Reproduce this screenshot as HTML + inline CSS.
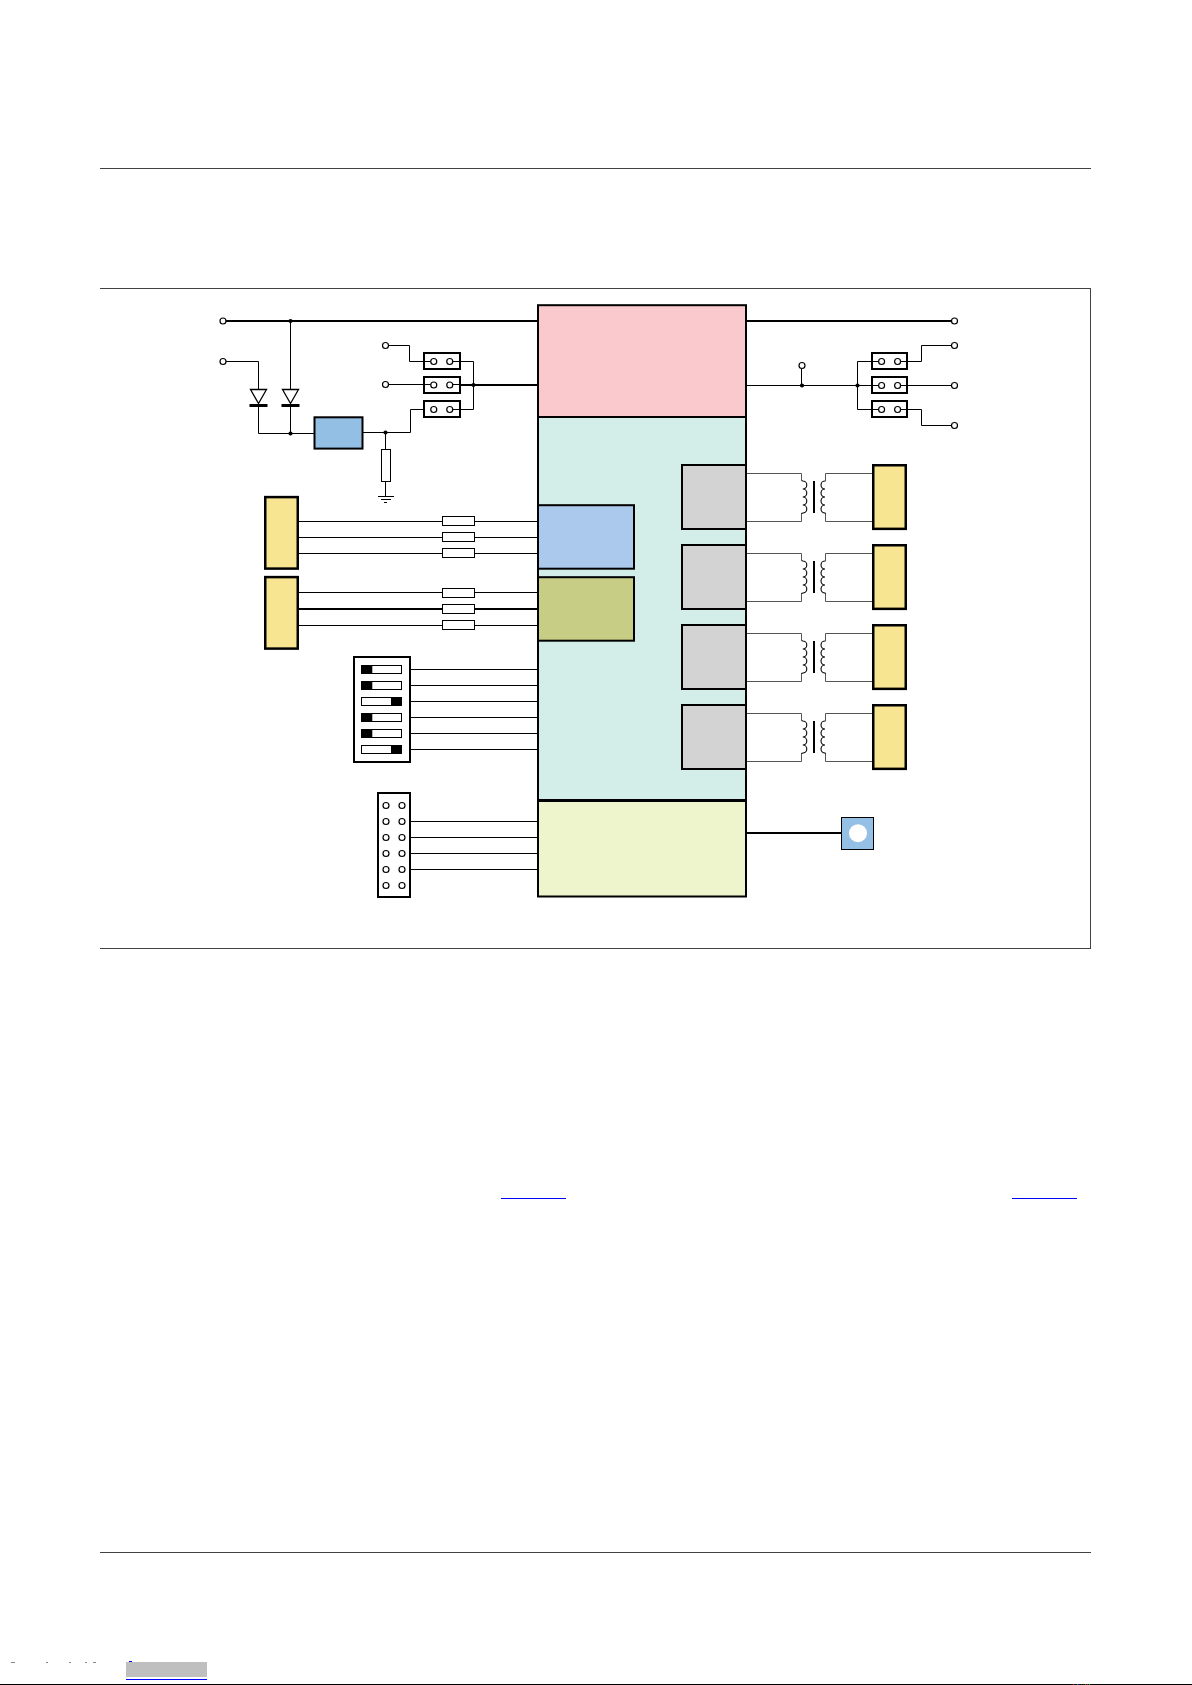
<!DOCTYPE html>
<html><head><meta charset="utf-8"><title>page</title>
<style>
html,body{margin:0;padding:0;background:#fff;}
body{width:1192px;height:1685px;position:relative;overflow:hidden;font-family:"Liberation Sans",sans-serif;}
svg{position:absolute;left:0;top:0;}
</style></head>
<body>
<svg width="1192" height="1685" viewBox="0 0 1192 1685">
<rect x="100" y="168" width="991" height="1" fill="#424242"/>
<rect x="100" y="288" width="991" height="1" fill="#424242"/>
<rect x="100" y="948" width="991" height="1" fill="#424242"/>
<rect x="1090" y="288" width="1" height="661" fill="#424242"/>
<rect x="100" y="1552" width="991" height="1" fill="#424242"/>
<rect x="501" y="1198" width="65" height="1" fill="#0000ff"/>
<rect x="1012" y="1198" width="65" height="1" fill="#0000ff"/>
<rect x="126" y="1662" width="81" height="15" fill="#bfbfbf"/>
<rect x="126" y="1679" width="81" height="1" fill="#0000ff"/>
<rect x="129" y="1661" width="3" height="1" fill="#0000ff"/>
<rect x="11" y="1662" width="4" height="1" fill="#888"/>
<rect x="46" y="1662" width="2" height="1" fill="#888"/>
<rect x="69" y="1662" width="2" height="1" fill="#888"/>
<rect x="85" y="1662" width="2" height="1" fill="#888"/>
<rect x="93" y="1662" width="3" height="1" fill="#888"/>
<rect x="0" y="1684" width="1192" height="1" fill="#000"/>
<rect x="1073" y="1684" width="1" height="1" fill="#e00000"/>
<rect x="1074" y="1684" width="1" height="1" fill="#000070"/>
<rect x="1077" y="1684" width="1" height="1" fill="#00a000"/>
<rect x="1078" y="1684" width="1" height="1" fill="#0000e0"/>
<rect x="1079" y="1684" width="1" height="1" fill="#400000"/>
<rect x="1081" y="1684" width="1" height="1" fill="#004000"/>
<rect x="1083" y="1684" width="1" height="1" fill="#500000"/>
<rect x="1085" y="1684" width="1" height="1" fill="#00b000"/>
<rect x="1086" y="1684" width="1" height="1" fill="#000060"/>
<rect x="1087" y="1684" width="1" height="1" fill="#f00000"/>
<rect x="1089" y="1684" width="1" height="1" fill="#00d000"/>
<rect x="538" y="305.2" width="208" height="111.8" fill="#f9c9cd" stroke="#000" stroke-width="2"/>
<rect x="538" y="417" width="208" height="383.5" fill="#d3ede8" stroke="#000" stroke-width="2"/>
<rect x="538" y="800.5" width="208" height="96" fill="#eef5cc" stroke="#000" stroke-width="2"/>
<path d="M538 800.5 H746" fill="none" stroke="#000" stroke-width="3" stroke-linejoin="miter"/>
<rect x="538" y="505.2" width="96" height="63.5" fill="#aac9ec" stroke="#000" stroke-width="2"/>
<rect x="538" y="577.2" width="96" height="63.5" fill="#c7cd84" stroke="#000" stroke-width="2"/>
<rect x="682" y="465" width="64" height="64" fill="#d3d3d3" stroke="#000" stroke-width="2"/>
<rect x="682" y="545" width="64" height="64" fill="#d3d3d3" stroke="#000" stroke-width="2"/>
<rect x="682" y="625" width="64" height="64" fill="#d3d3d3" stroke="#000" stroke-width="2"/>
<rect x="682" y="705" width="64" height="64" fill="#d3d3d3" stroke="#000" stroke-width="2"/>
<path d="M226 321 H538" fill="none" stroke="#000" stroke-width="2" stroke-linejoin="miter"/>
<circle cx="223" cy="321" r="3" fill="#fff" stroke="#000" stroke-width="1.2"/>
<circle cx="290.5" cy="321" r="2.1" fill="#000"/>
<path d="M226 361.5 H258.5 V433.5 H314" fill="none" stroke="#000" stroke-width="1" stroke-linejoin="miter"/>
<circle cx="223" cy="361.5" r="3" fill="#fff" stroke="#000" stroke-width="1.2"/>
<path d="M290.5 321 V433.5" fill="none" stroke="#000" stroke-width="1" stroke-linejoin="miter"/>
<circle cx="290.5" cy="433.5" r="2.1" fill="#000"/>
<path d="M250.5 389.5 H266.5 L258.5 403.5 Z" fill="#fff" stroke="#000" stroke-width="1.3" stroke-linejoin="miter"/>
<rect x="249.5" y="404" width="18" height="3" fill="#000"/>
<path d="M282.5 389.5 H298.5 L290.5 403.5 Z" fill="#fff" stroke="#000" stroke-width="1.3" stroke-linejoin="miter"/>
<rect x="281.5" y="404" width="18" height="3" fill="#000"/>
<rect x="314.5" y="417.3" width="48" height="31.3" fill="#93bfe5" stroke="#000" stroke-width="2"/>
<path d="M362.5 432.5 H410.5 V409.5 H430.75" fill="none" stroke="#000" stroke-width="1" stroke-linejoin="miter"/>
<circle cx="385.5" cy="432.5" r="2.1" fill="#000"/>
<path d="M385.5 432.5 V449" fill="none" stroke="#000" stroke-width="1" stroke-linejoin="miter"/>
<rect x="381.5" y="449.5" width="9" height="32" fill="#fff" stroke="#000" stroke-width="1"/>
<path d="M385.5 482 V496.5" fill="none" stroke="#000" stroke-width="1" stroke-linejoin="miter"/>
<path d="M378 496.5 H394 M381 499.5 H391 M384 502.5 H387" fill="none" stroke="#000" stroke-width="1" stroke-linejoin="miter"/>
<rect x="424" y="353" width="36" height="16" fill="#fff" stroke="#000" stroke-width="2"/>
<rect x="424" y="377" width="36" height="16" fill="#fff" stroke="#000" stroke-width="2"/>
<rect x="424" y="401" width="36" height="16" fill="#fff" stroke="#000" stroke-width="2"/>
<path d="M388.5 345.5 H409.5 V361.5 H430.75" fill="none" stroke="#000" stroke-width="1" stroke-linejoin="miter"/>
<circle cx="385.5" cy="345.5" r="3" fill="#fff" stroke="#000" stroke-width="1.2"/>
<path d="M388.5 384.5 H430.75" fill="none" stroke="#000" stroke-width="1" stroke-linejoin="miter"/>
<circle cx="385.5" cy="384.5" r="3" fill="#fff" stroke="#000" stroke-width="1.2"/>
<path d="M452.75 361.5 H473.5 V409.5 H452.75" fill="none" stroke="#000" stroke-width="1" stroke-linejoin="miter"/>
<path d="M461 385 H538" fill="none" stroke="#000" stroke-width="2" stroke-linejoin="miter"/>
<path d="M452.75 384.5 H461" fill="none" stroke="#000" stroke-width="1" stroke-linejoin="miter"/>
<circle cx="473.5" cy="385" r="2.1" fill="#000"/>
<circle cx="433.75" cy="361.5" r="3" fill="#fff" stroke="#000" stroke-width="1.2"/>
<circle cx="449.75" cy="361.5" r="3" fill="#fff" stroke="#000" stroke-width="1.2"/>
<circle cx="433.75" cy="385" r="3" fill="#fff" stroke="#000" stroke-width="1.2"/>
<circle cx="449.75" cy="385" r="3" fill="#fff" stroke="#000" stroke-width="1.2"/>
<circle cx="433.75" cy="409.5" r="3" fill="#fff" stroke="#000" stroke-width="1.2"/>
<circle cx="449.75" cy="409.5" r="3" fill="#fff" stroke="#000" stroke-width="1.2"/>
<path d="M746 321 H951.5" fill="none" stroke="#000" stroke-width="2" stroke-linejoin="miter"/>
<circle cx="954.5" cy="321" r="3" fill="#fff" stroke="#000" stroke-width="1.2"/>
<rect x="872" y="353" width="35" height="16" fill="#fff" stroke="#000" stroke-width="2"/>
<rect x="872" y="377" width="35" height="16" fill="#fff" stroke="#000" stroke-width="2"/>
<rect x="872" y="401" width="35" height="16" fill="#fff" stroke="#000" stroke-width="2"/>
<path d="M746 385.5 H878.6" fill="none" stroke="#000" stroke-width="1" stroke-linejoin="miter"/>
<circle cx="802" cy="385.5" r="2.1" fill="#000"/>
<path d="M801.5 368.5 V385.5" fill="none" stroke="#000" stroke-width="1" stroke-linejoin="miter"/>
<circle cx="802" cy="365.5" r="3" fill="#fff" stroke="#000" stroke-width="1.2"/>
<circle cx="857.5" cy="385.5" r="2.1" fill="#000"/>
<path d="M878.6 361.5 H857.5 V409.5 H878.6" fill="none" stroke="#000" stroke-width="1" stroke-linejoin="miter"/>
<path d="M900.6 361.5 H921.5 V345.5 H951.5" fill="none" stroke="#000" stroke-width="1" stroke-linejoin="miter"/>
<path d="M900.6 385.5 H951.5" fill="none" stroke="#000" stroke-width="1" stroke-linejoin="miter"/>
<path d="M900.6 409.5 H921.5 V425.5 H951.5" fill="none" stroke="#000" stroke-width="1" stroke-linejoin="miter"/>
<circle cx="881.6" cy="361.5" r="3" fill="#fff" stroke="#000" stroke-width="1.2"/>
<circle cx="897.6" cy="361.5" r="3" fill="#fff" stroke="#000" stroke-width="1.2"/>
<circle cx="881.6" cy="385.5" r="3" fill="#fff" stroke="#000" stroke-width="1.2"/>
<circle cx="897.6" cy="385.5" r="3" fill="#fff" stroke="#000" stroke-width="1.2"/>
<circle cx="881.6" cy="409.5" r="3" fill="#fff" stroke="#000" stroke-width="1.2"/>
<circle cx="897.6" cy="409.5" r="3" fill="#fff" stroke="#000" stroke-width="1.2"/>
<circle cx="954.5" cy="345.5" r="3" fill="#fff" stroke="#000" stroke-width="1.2"/>
<circle cx="954.5" cy="385.5" r="3" fill="#fff" stroke="#000" stroke-width="1.2"/>
<circle cx="954.5" cy="425.5" r="3" fill="#fff" stroke="#000" stroke-width="1.2"/>
<rect x="265.25" y="497.1" width="32.5" height="71.5" fill="#f8e592" stroke="#000" stroke-width="2.5"/>
<rect x="265.25" y="577.1" width="32.5" height="71.5" fill="#f8e592" stroke="#000" stroke-width="2.5"/>
<path d="M299 521.5 H538" fill="none" stroke="#000" stroke-width="1" stroke-linejoin="miter"/>
<rect x="442.5" y="516.5" width="32" height="9" fill="#fff" stroke="#000" stroke-width="1"/>
<path d="M299 537.5 H538" fill="none" stroke="#000" stroke-width="1" stroke-linejoin="miter"/>
<rect x="442.5" y="532.5" width="32" height="9" fill="#fff" stroke="#000" stroke-width="1"/>
<path d="M299 553.5 H538" fill="none" stroke="#000" stroke-width="1" stroke-linejoin="miter"/>
<rect x="442.5" y="548.5" width="32" height="9" fill="#fff" stroke="#000" stroke-width="1"/>
<path d="M299 592.5 H538" fill="none" stroke="#000" stroke-width="1" stroke-linejoin="miter"/>
<rect x="442.5" y="588.5" width="32" height="9" fill="#fff" stroke="#000" stroke-width="1"/>
<path d="M299 609 H538" fill="none" stroke="#000" stroke-width="2" stroke-linejoin="miter"/>
<rect x="442.5" y="604.5" width="32" height="9" fill="#fff" stroke="#000" stroke-width="1"/>
<path d="M299 625.5 H538" fill="none" stroke="#000" stroke-width="1" stroke-linejoin="miter"/>
<rect x="442.5" y="620.5" width="32" height="9" fill="#fff" stroke="#000" stroke-width="1"/>
<path d="M747 473.5 H801.5 V480.5 M801.5 513 V521.5 H747" fill="none" stroke="#555" stroke-width="1" stroke-linejoin="miter"/>
<path d="M801.5 480.5 L802.8 481 A4 4 0 0 1 802.8 489 A4 4 0 0 1 802.8 497 A4 4 0 0 1 802.8 505 A4 4 0 0 1 802.8 513 L801.5 513.5" fill="none" stroke="#000" stroke-width="1.1" stroke-linejoin="miter"/>
<rect x="813" y="481" width="2" height="32" fill="#000"/>
<path d="M872 473.5 H825.5 V480.5 M825.5 513 V521.5 H872" fill="none" stroke="#555" stroke-width="1" stroke-linejoin="miter"/>
<path d="M825.5 480.5 L825 481 A4 4 0 0 0 825 489 A4 4 0 0 0 825 497 A4 4 0 0 0 825 505 A4 4 0 0 0 825 513 L825.5 513.5" fill="none" stroke="#000" stroke-width="1.1" stroke-linejoin="miter"/>
<rect x="873.25" y="465.25" width="32.5" height="63.6" fill="#f8e592" stroke="#000" stroke-width="2.5"/>
<path d="M747 553.5 H801.5 V560.5 M801.5 593 V601.5 H747" fill="none" stroke="#555" stroke-width="1" stroke-linejoin="miter"/>
<path d="M801.5 560.5 L802.8 561 A4 4 0 0 1 802.8 569 A4 4 0 0 1 802.8 577 A4 4 0 0 1 802.8 585 A4 4 0 0 1 802.8 593 L801.5 593.5" fill="none" stroke="#000" stroke-width="1.1" stroke-linejoin="miter"/>
<rect x="813" y="561" width="2" height="32" fill="#000"/>
<path d="M872 553.5 H825.5 V560.5 M825.5 593 V601.5 H872" fill="none" stroke="#555" stroke-width="1" stroke-linejoin="miter"/>
<path d="M825.5 560.5 L825 561 A4 4 0 0 0 825 569 A4 4 0 0 0 825 577 A4 4 0 0 0 825 585 A4 4 0 0 0 825 593 L825.5 593.5" fill="none" stroke="#000" stroke-width="1.1" stroke-linejoin="miter"/>
<rect x="873.25" y="545.25" width="32.5" height="63.6" fill="#f8e592" stroke="#000" stroke-width="2.5"/>
<path d="M747 633.5 H801.5 V640.5 M801.5 673 V681.5 H747" fill="none" stroke="#555" stroke-width="1" stroke-linejoin="miter"/>
<path d="M801.5 640.5 L802.8 641 A4 4 0 0 1 802.8 649 A4 4 0 0 1 802.8 657 A4 4 0 0 1 802.8 665 A4 4 0 0 1 802.8 673 L801.5 673.5" fill="none" stroke="#000" stroke-width="1.1" stroke-linejoin="miter"/>
<rect x="813" y="641" width="2" height="32" fill="#000"/>
<path d="M872 633.5 H825.5 V640.5 M825.5 673 V681.5 H872" fill="none" stroke="#555" stroke-width="1" stroke-linejoin="miter"/>
<path d="M825.5 640.5 L825 641 A4 4 0 0 0 825 649 A4 4 0 0 0 825 657 A4 4 0 0 0 825 665 A4 4 0 0 0 825 673 L825.5 673.5" fill="none" stroke="#000" stroke-width="1.1" stroke-linejoin="miter"/>
<rect x="873.25" y="625.25" width="32.5" height="63.6" fill="#f8e592" stroke="#000" stroke-width="2.5"/>
<path d="M747 713.5 H801.5 V720.5 M801.5 753 V761.5 H747" fill="none" stroke="#555" stroke-width="1" stroke-linejoin="miter"/>
<path d="M801.5 720.5 L802.8 721 A4 4 0 0 1 802.8 729 A4 4 0 0 1 802.8 737 A4 4 0 0 1 802.8 745 A4 4 0 0 1 802.8 753 L801.5 753.5" fill="none" stroke="#000" stroke-width="1.1" stroke-linejoin="miter"/>
<rect x="813" y="721" width="2" height="32" fill="#000"/>
<path d="M872 713.5 H825.5 V720.5 M825.5 753 V761.5 H872" fill="none" stroke="#555" stroke-width="1" stroke-linejoin="miter"/>
<path d="M825.5 720.5 L825 721 A4 4 0 0 0 825 729 A4 4 0 0 0 825 737 A4 4 0 0 0 825 745 A4 4 0 0 0 825 753 L825.5 753.5" fill="none" stroke="#000" stroke-width="1.1" stroke-linejoin="miter"/>
<rect x="873.25" y="705.25" width="32.5" height="63.6" fill="#f8e592" stroke="#000" stroke-width="2.5"/>
<rect x="354" y="657" width="56" height="105" fill="#fff" stroke="#000" stroke-width="2"/>
<rect x="361.5" y="665.5" width="40" height="8" fill="#fff" stroke="#000" stroke-width="1"/>
<rect x="361" y="665.0" width="11.3" height="9" fill="#000"/>
<path d="M411 669.5 H538" fill="none" stroke="#000" stroke-width="1" stroke-linejoin="miter"/>
<rect x="361.5" y="681.5" width="40" height="8" fill="#fff" stroke="#000" stroke-width="1"/>
<rect x="361" y="681.0" width="11.3" height="9" fill="#000"/>
<path d="M411 685.5 H538" fill="none" stroke="#000" stroke-width="1" stroke-linejoin="miter"/>
<rect x="361.5" y="697.5" width="40" height="8" fill="#fff" stroke="#000" stroke-width="1"/>
<rect x="391" y="697.0" width="11" height="9" fill="#000"/>
<path d="M411 701.5 H538" fill="none" stroke="#000" stroke-width="1" stroke-linejoin="miter"/>
<rect x="361.5" y="713.5" width="40" height="8" fill="#fff" stroke="#000" stroke-width="1"/>
<rect x="361" y="713.0" width="11.3" height="9" fill="#000"/>
<path d="M411 717.5 H538" fill="none" stroke="#000" stroke-width="1" stroke-linejoin="miter"/>
<rect x="361.5" y="729.5" width="40" height="8" fill="#fff" stroke="#000" stroke-width="1"/>
<rect x="361" y="729.0" width="11.3" height="9" fill="#000"/>
<path d="M411 733.5 H538" fill="none" stroke="#000" stroke-width="1" stroke-linejoin="miter"/>
<rect x="361.5" y="745.5" width="40" height="8" fill="#fff" stroke="#000" stroke-width="1"/>
<rect x="391" y="745.0" width="11" height="9" fill="#000"/>
<path d="M411 749.5 H538" fill="none" stroke="#000" stroke-width="1" stroke-linejoin="miter"/>
<rect x="378" y="793" width="32" height="104" fill="#fff" stroke="#000" stroke-width="2"/>
<circle cx="386" cy="805.5" r="3" fill="#fff" stroke="#000" stroke-width="1.2"/>
<circle cx="402" cy="805.5" r="3" fill="#fff" stroke="#000" stroke-width="1.2"/>
<circle cx="386" cy="821.5" r="3" fill="#fff" stroke="#000" stroke-width="1.2"/>
<circle cx="402" cy="821.5" r="3" fill="#fff" stroke="#000" stroke-width="1.2"/>
<circle cx="386" cy="837.5" r="3" fill="#fff" stroke="#000" stroke-width="1.2"/>
<circle cx="402" cy="837.5" r="3" fill="#fff" stroke="#000" stroke-width="1.2"/>
<circle cx="386" cy="853.5" r="3" fill="#fff" stroke="#000" stroke-width="1.2"/>
<circle cx="402" cy="853.5" r="3" fill="#fff" stroke="#000" stroke-width="1.2"/>
<circle cx="386" cy="869.5" r="3" fill="#fff" stroke="#000" stroke-width="1.2"/>
<circle cx="402" cy="869.5" r="3" fill="#fff" stroke="#000" stroke-width="1.2"/>
<circle cx="386" cy="885.5" r="3" fill="#fff" stroke="#000" stroke-width="1.2"/>
<circle cx="402" cy="885.5" r="3" fill="#fff" stroke="#000" stroke-width="1.2"/>
<path d="M411 821.5 H538" fill="none" stroke="#000" stroke-width="1" stroke-linejoin="miter"/>
<path d="M411 837.5 H538" fill="none" stroke="#000" stroke-width="1" stroke-linejoin="miter"/>
<path d="M411 853.5 H538" fill="none" stroke="#000" stroke-width="1" stroke-linejoin="miter"/>
<path d="M411 869.5 H538" fill="none" stroke="#000" stroke-width="1" stroke-linejoin="miter"/>
<path d="M747 833 H841" fill="none" stroke="#000" stroke-width="1.8" stroke-linejoin="miter"/>
<rect x="841.5" y="817.5" width="32" height="32" fill="#95c0e5" stroke="#000" stroke-width="1"/>
<circle cx="858" cy="833.2" r="9" fill="#fff"/>
</svg>
</body></html>
